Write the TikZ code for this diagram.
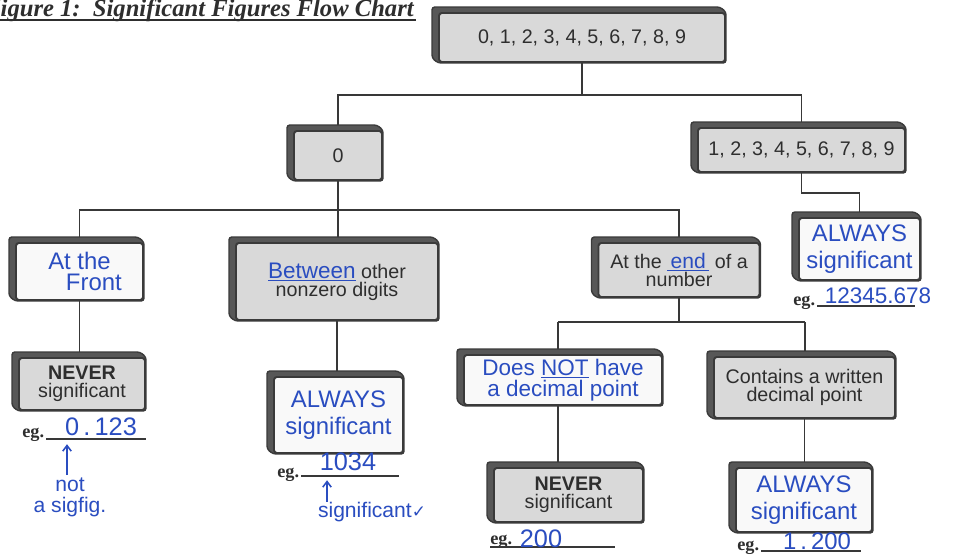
\documentclass[tikz,border=0pt]{standalone}
\usepackage{fontspec}
\setmainfont{Liberation Sans}
\newfontfamily\serifb{Liberation Serif}
\newfontfamily\dejavu{DejaVu Sans}
\usetikzlibrary{calc,arrows.meta}
\definecolor{boxgray}{HTML}{D9D9D9}
\definecolor{boxline}{HTML}{3A3A3A}
\definecolor{shadec}{HTML}{575757}
\definecolor{ink}{HTML}{2A4DC0}
\definecolor{linec}{HTML}{383838}
\definecolor{printc}{HTML}{2E2E2E}
\pgfdeclarelayer{paper}
\pgfdeclarelayer{lines}
\pgfdeclarelayer{shade}
\pgfsetlayers{paper,lines,shade,main}
\tikzset{
  fbox/.style={draw=boxline, line width=1.4pt, fill=boxgray, rounded corners=2pt,
    inner sep=0pt, align=center, text=printc, font=\fontsize{14}{13}\selectfont},
  wbox/.style={fbox, fill=white!95!gray, text=ink, font=\fontsize{17}{19}\selectfont},
  sz/.style 2 args={minimum width=#1*0.025cm, minimum height=#2*0.025cm},
  hand/.style={text=ink, font=\fontsize{17}{17}\selectfont, inner sep=0pt, align=center},
  conn/.style={draw=linec, line width=1.4pt},
  egtext/.style={font=\serifb\bfseries\fontsize{13}{13}\selectfont, inner sep=0pt, anchor=base west, text=printc},
  egline/.style={draw=linec, line width=1.3pt},
  penarrow/.style={draw=ink, line width=1.1pt, -{Straight Barb[length=4pt,width=6pt]}},
}
\begin{document}
\begin{tikzpicture}[x=0.025cm,y=-0.025cm]
\useasboundingbox (0,0) rectangle (967,559);
\begin{pgfonlayer}{paper}
\fill[white] (0,0) rectangle (967,559);
\end{pgfonlayer}

% title
\begin{scope}
\clip (0,0) rectangle (967,559);
\node[anchor=base west, inner sep=0pt, text=printc,
  font=\serifb\bfseries\itshape\fontsize{17.5}{17}\selectfont] (title) at (-16,16)
  {Figure 1:\ \ Significant Figures Flow Chart};
\draw[line width=1.5pt, printc] ($(title.base west)+(0,4)$) -- ($(title.base east)+(2,4)$);
\end{scope}

% boxes
\node[fbox, sz={286}{49}] (top) at (582,37.5) {0, 1, 2, 3, 4, 5, 6, 7, 8, 9};
\node[fbox, sz={88}{49}] (zero) at (338,155.5) {0};
\node[fbox, sz={207}{44}] (nonzero) at (801.5,150) {1, 2, 3, 4, 5, 6, 7, 8, 9};
\node[wbox, sz={127}{57}, font=\fontsize{17}{15}\selectfont] (front) at (79.5,271.5)
  {At the\\\hspace*{1.2em}Front};
\node[fbox, sz={202}{77}] (between) at (337,281.5)
  {\textcolor{ink}{\fontsize{16}{13}\selectfont\underline{Between}} other\\nonzero digits};
\node[fbox, sz={161}{54}] (endbox) at (679,270)
  {At the \textcolor{ink}{\underline{\fontsize{15}{13}\selectfont\,end\,}} of a\\number};
\node[wbox, sz={121}{62}] (alwaysR) at (859.5,249) {ALWAYS\\significant};
\node[fbox, sz={126}{52}] (neverL) at (82,384) {\textbf{NEVER}\\significant};
\node[wbox, sz={129}{76}] (alwaysM) at (338.5,415) {ALWAYS\\significant};
\node[wbox, sz={198}{50}, font=\fontsize{16}{15}\selectfont] (doesnot) at (563,380)
  {Does \underline{NOT} have\\a decimal point};
\node[fbox, sz={181}{61}] (contains) at (804.5,387.5) {Contains a written\\decimal point};
\node[fbox, sz={149}{54}] (neverM) at (568.5,495) {\textbf{NEVER}\\significant};
\node[wbox, sz={136}{64}] (alwaysBR) at (804,500) {ALWAYS\\significant};

% 3D extrusion of each box
\begin{pgfonlayer}{shade}
\foreach \n in {top,zero,nonzero,front,between,endbox,alwaysR,neverL,alwaysM,doesnot,contains,neverM,alwaysBR}{
  \filldraw[fill=shadec, draw=boxline, line width=1pt, rounded corners=2pt]
    ($(\n.north west)+(-6,-5)$) -- ($(\n.north east)+(-6,-5)$) -- (\n.north east)
    -- (\n.south east) -- (\n.south west) -- ($(\n.south west)+(-6,-5)$) -- cycle;
}
\end{pgfonlayer}

% connectors
\coordinate (j1) at (582,95);
\coordinate (j2) at (830,193);
\coordinate (j3) at (338,210);
\coordinate (j4) at (679,322);
\coordinate (j4l) at (558,322);
\coordinate (j4r) at (805,322);
\begin{pgfonlayer}{lines}
\draw[conn] (top) -- (j1);
\draw[conn] (zero) |- (j1) -| (nonzero);
\draw[conn] (nonzero) |- (j2) -| (alwaysR);
\draw[conn] (zero) -- (j3);
\draw[conn] (front) |- (j3) -| (endbox);
\draw[conn] (j3) -- (j3 |- between.north);
\draw[conn] (front) -- (front |- neverL.north);
\draw[conn] (between) -- (between |- alwaysM.north);
\draw[conn] (endbox) -- (j4);
\draw[conn] (j4l) -- (j4r);
\draw[conn] (j4l) -- (j4l |- doesnot.north);
\draw[conn] (j4r) -- (j4r |- contains.north);
\draw[conn] (j4l |- doesnot.south) -- (j4l |- neverM.north);
\draw[conn] (contains) -- (contains |- alwaysBR.north);
\end{pgfonlayer}

% examples
\node[egtext] (egR) at (793,305) {eg.};
\draw[egline] ($(egR.base east)+(2,1)$) -- ++(98,0);
\node[hand, font=\fontsize{16}{16}\selectfont] (numR) at (878,296) {12345.678};

\node[egtext] (egL) at (22,437) {eg.};
\draw[egline] ($(egL.base east)+(2,2)$) -- ++(100,0);
\node[hand, font=\fontsize{18}{18}\selectfont] (numL) at (101,427) {0\,.\,123};
\node[hand, font=\fontsize{15}{15}\selectfont] (noteL) at (70,497) {not\\a sigfig.};
\draw[penarrow] ($(noteL.north)+(-3,-2)$) -- ($(noteL.north |- numL.south)+(-3,8)$);

\node[egtext] (egM) at (277,477) {eg.};
\draw[egline] ($(egM.base east)+(2,-1)$) -- ++(98,0);
\node[hand, font=\fontsize{18}{18}\selectfont] (numM) at (348,462) {1034};
\node[hand, font=\fontsize{15}{15}\selectfont] (noteM) at (372,512) {significant{\dejavu\fontsize{12}{12}\selectfont ✓}};
\draw[penarrow] (noteM.north -| 327,0) -- ($(numM.south -| 327,0)+(0,9)$);

\node[egtext] (egN) at (490,544) {eg.};
\draw[egline] ($(egN.base west)+(0,3)$) -- ++(125,0);
\node[hand, font=\fontsize{18}{18}\selectfont] (numN) at (541,539) {200};

\node[egtext] (egB) at (737,550) {eg.};
\draw[egline] ($(egB.base east)+(2,1)$) -- ++(100,0);
\node[hand, font=\fontsize{17}{17}\selectfont] (numB) at (817,541) {1\,.\,200};
\end{tikzpicture}
\end{document}
